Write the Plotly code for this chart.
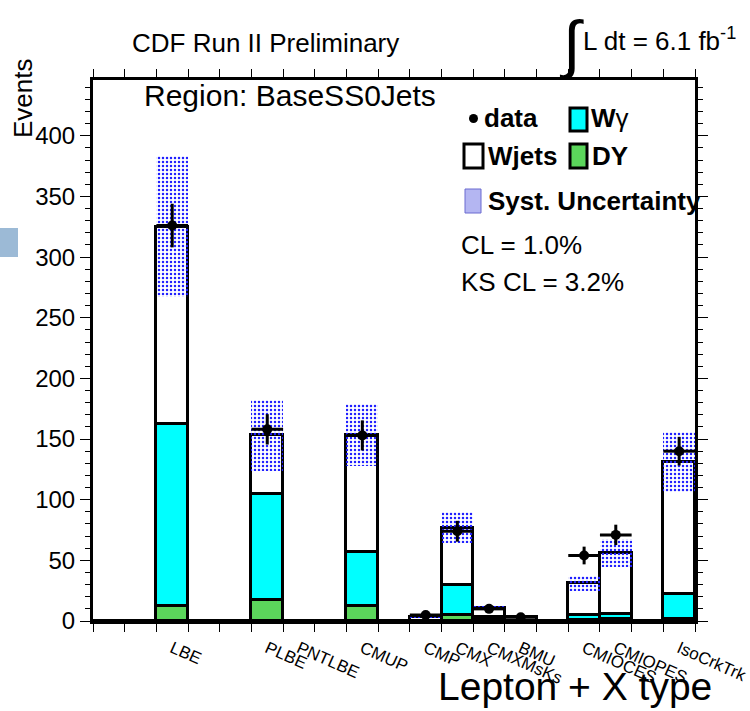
import plotly.graph_objects as go

# ---------------- data ----------------
bin_labels = ["", "", "LBE", "", "", "PLBE", "PNTLBE", "", "CMUP", "", "CMP", "CMX",
              "CMXMsKs", "BMU", "", "CMIOCES", "CMIOPES", "", "IsoCrkTrk"]
dy_vals    = [0, 0, 12, 0, 0, 17, 0, 0, 12, 0, 0, 5, 0.5, 0, 0, 1, 2, 0, 2]
wgamma_vals = [0, 0, 150, 0, 0, 88, 0, 0, 45, 0, 0, 25, 2.5, 0, 0, 4, 4, 0, 20]
wjets_vals = [0, 0, 163, 0, 0, 48, 0, 0, 96, 0, 3.5, 47, 8, 3, 0, 26, 50, 0, 109]
syst_vals  = [0, 0, 58, 0, 0, 29, 0, 0, 25.5, 0, 0.6, 13, 1.5, 0.5, 0, 6, 11.5, 0, 25]
data_vals  = [None, None, 326, None, None, 158, None, None, 153, None, 5, 74, 10, 3,
              None, 54, 71, None, 140]
data_errs  = [None, None, 18, None, None, 12.5, None, None, 12.4, None, 2.2, 8.6, 3.2,
              1.7, None, 7.3, 8.4, None, 11.8]
y_ticks = [0, 50, 100, 150, 200, 250, 300, 350, 400]

n_bins = len(bin_labels)
centers = [i + 0.5 for i in range(n_bins)]
cum_wg = [d + w for d, w in zip(dy_vals, wgamma_vals)]
total = [c + j for c, j in zip(cum_wg, wjets_vals)]
band_base = [t - s for t, s in zip(total, syst_vals)]
band_h = [2 * s for s in syst_vals]

W, H = 750, 711
L, R, T, B = 93, 695, 80, 621
FONT = "Liberation Sans, Arial, Helvetica, sans-serif"


def pxx(px):
    return (px - L) / (R - L)


def pxy(py):
    return (B - py) / (B - T)


GREEN = "#5bd65b"
CYAN = "#00ffff"

fig = go.Figure()
line_black = dict(color="black", width=3)
fig.add_trace(go.Bar(x=centers, y=total, width=1, marker=dict(color="white", line=line_black)))
fig.add_trace(go.Bar(x=centers, y=cum_wg, width=1, marker=dict(color=CYAN, line=line_black)))
fig.add_trace(go.Bar(x=centers, y=dy_vals, width=1, marker=dict(color=GREEN, line=line_black)))
fig.add_trace(go.Bar(x=centers, y=band_h, base=band_base, width=1,
                     marker=dict(color="rgba(0,0,255,1)", line=dict(width=0),
                                 pattern=dict(shape=".", size=4, solidity=0.3,
                                              fillmode="replace", fgcolor="#2020ff",
                                              bgcolor="rgba(0,0,0,0)"))))

dx = [centers[i] for i in range(n_bins) if data_vals[i] is not None]
dv = [data_vals[i] for i in range(n_bins) if data_vals[i] is not None]
de = [data_errs[i] for i in range(n_bins) if data_vals[i] is not None]
fig.add_trace(go.Scatter(x=dx, y=dv, mode="markers",
                         marker=dict(color="black", size=10),
                         error_y=dict(type="data", array=de, color="black", thickness=3, width=0),
                         error_x=dict(type="constant", value=0.5, color="black", thickness=3, width=0)))

lab_pos = [centers[i] for i in range(n_bins) if bin_labels[i]]
lab_txt = [bin_labels[i] for i in range(n_bins) if bin_labels[i]]

fig.update_layout(
    width=W, height=H,
    margin=dict(l=L, r=W - R, t=T, b=H - B, autoexpand=False),
    paper_bgcolor="white", plot_bgcolor="white",
    barmode="overlay", bargap=0, showlegend=False,
    font=dict(family=FONT, color="black"),
    xaxis=dict(range=[0, n_bins], showline=True, linecolor="black", linewidth=3, mirror="ticks",
               showgrid=False, zeroline=False, tickmode="array", tickvals=lab_pos, ticktext=lab_txt,
               ticks="outside", ticklen=0, tickangle=24, tickfont=dict(size=17),
               ticklabelstandoff=8, automargin=False,
               minor=dict(tickmode="linear", tick0=0, dtick=1, ticks="outside", ticklen=8,
                          tickcolor="black", tickwidth=1)),
    yaxis=dict(range=[0, 446], showline=True, linecolor="black", linewidth=3, mirror="ticks",
               showgrid=False, zeroline=False, tickmode="array", tickvals=y_ticks,
               ticks="outside", ticklen=10, tickcolor="black", tickwidth=1,
               tickfont=dict(size=24), automargin=False,
               minor=dict(tickmode="linear", tick0=0, dtick=10, ticks="outside", ticklen=5,
                          tickcolor="black", tickwidth=1)),
)

ann = []


def text(s, x, y, size, xanchor="left", **kw):
    ann.append(dict(text=s, x=pxx(x), y=pxy(y), xref="paper", yref="paper", showarrow=False,
                    xanchor=xanchor, yanchor="middle", font=dict(size=size, family=FONT, color="black"),
                    **kw))


text("CDF Run II Preliminary", 265, 43, 26, xanchor="center")
text("∫", 571, 44, 64, xanchor="center")
text("L dt = 6.1 fb<sup>-1</sup>", 581, 40, 26)
text("Region: BaseSS0Jets", 142, 95, 30)
text("<b>data</b>", 482, 118, 26)
text("<b>W</b>γ", 589, 118, 26)
text("<b>Wjets</b>", 486, 156, 26)
text("<b>DY</b>", 590, 156, 26)
text("<b>Syst. Uncertainty</b>", 486, 201, 26)
text("CL = 1.0%", 459, 245, 26)
text("KS CL = 3.2%", 459, 282, 26)
text("Lepton + X type", 575, 686, 39, xanchor="center")
ann.append(dict(text="Events", x=pxx(23), y=pxy(98), xref="paper", yref="paper", showarrow=False,
                xanchor="center", yanchor="middle", textangle=-90,
                font=dict(size=26, family=FONT, color="black")))
fig.update_layout(annotations=ann)

shapes = []


def rect(x0, y0, x1, y1, fill, line):
    shapes.append(dict(type="rect", xref="paper", yref="paper", x0=pxx(x0), x1=pxx(x1),
                       y0=pxy(y1), y1=pxy(y0), fillcolor=fill, line=line, layer="above"))


rect(570, 108, 587, 131, CYAN, dict(color="black", width=3))
rect(464, 144, 483, 168, "white", dict(color="black", width=3))
rect(570, 144, 587, 168, GREEN, dict(color="black", width=3))
rect(465, 189, 481, 213, "#b4b6f2", dict(color="#6a6ad0", width=1))
rect(0, 228, 18, 257, "#9cbad6", dict(width=0))
shapes.append(dict(type="circle", xref="paper", yref="paper", x0=pxx(469), x1=pxx(478),
                   y0=pxy(123), y1=pxy(114), fillcolor="black", line=dict(width=0), layer="above"))
fig.update_layout(shapes=shapes)

fig.write_html("out.html")
